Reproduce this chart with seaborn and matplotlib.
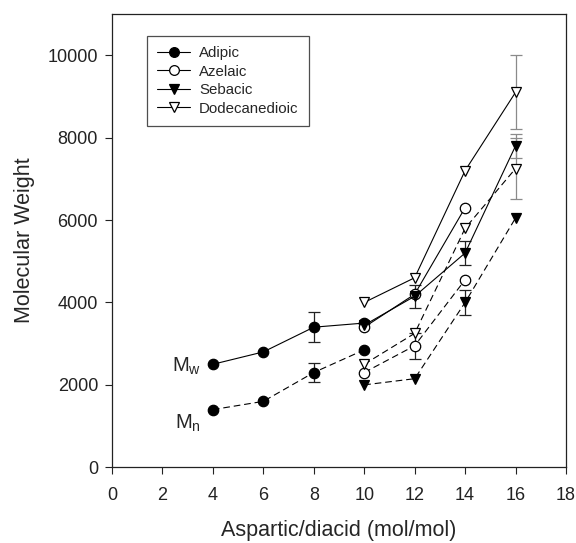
import numpy as np
import pandas as pd
import matplotlib
matplotlib.use("Agg")
import matplotlib.pyplot as plt
from matplotlib.lines import Line2D
import seaborn as sns

# Aspartic/diacid ratio (mol/mol)
adipic_x = [4, 6, 8, 10]
other_x = [10, 12, 14, 16]
azelaic_x = [10, 12, 14]

# Weight-average molecular weight (Mw)
adipic_mw = [2500, 2800, 3400, 3500]
azelaic_mw = [3400, 4200, 6300]
sebacic_mw = [3450, 4150, 5200, 7800]
dodec_mw = [4000, 4600, 7200, 9100]

# Number-average molecular weight (Mn)
adipic_mn = [1400, 1600, 2300, 2850]
azelaic_mn = [2300, 2950, 4550]
sebacic_mn = [2000, 2150, 4000, 6050]
dodec_mn = [2500, 3250, 5800, 7250]

# Standard deviations (x, y, err)
err_x = [8, 8, 12, 12, 14, 14, 16, 16, 16]
err_y = [3400, 2300, 4150, 2950, 5200, 4000, 9100, 7250, 7800]
err_v = [360, 230, 280, 310, 280, 300, 900, 750, 300]
err_grey = [False, False, False, False, False, False, True, True, True]

names = ["Adipic", "Azelaic", "Sebacic", "Dodecanedioic"]

sns.set_style("ticks")
plt.rcParams["font.family"] = ["Liberation Sans", "DejaVu Sans"]
plt.rcParams["mathtext.fontset"] = "custom"
plt.rcParams["mathtext.rm"] = "Liberation Sans"
plt.rcParams["mathtext.it"] = "Liberation Sans"

fig = plt.figure(figsize=(5.76, 5.43), dpi=100)
ax = fig.add_axes([112 / 576, 1 - 467.3 / 543, (566 - 112) / 576, (467.3 - 14) / 543])

styles = {
    "Adipic": dict(marker="o", markerfacecolor="black"),
    "Azelaic": dict(marker="o", markerfacecolor="white"),
    "Sebacic": dict(marker="v", markerfacecolor="black"),
    "Dodecanedioic": dict(marker="v", markerfacecolor="white"),
}

series = [
    ("Adipic", adipic_x, adipic_mw, adipic_mn),
    ("Azelaic", azelaic_x, azelaic_mw, azelaic_mn),
    ("Sebacic", other_x, sebacic_mw, sebacic_mn),
    ("Dodecanedioic", other_x, dodec_mw, dodec_mn),
]

# error bars drawn first so markers sit on top
for x, y, e, g in zip(err_x, err_y, err_v, err_grey):
    ax.errorbar([x], [y], yerr=[e], fmt="none",
                ecolor="#8a8a8a" if g else "#222222",
                elinewidth=0.9, capsize=4, capthick=0.9, zorder=1)

for name, xs, mw, mn in series:
    st = styles[name]
    for vals, dash in ((mw, None), (mn, (6, 3.5))):
        df = pd.DataFrame({"x": xs, "y": vals})
        sns.lineplot(data=df, x="x", y="y", ax=ax, color="black",
                     linewidth=0.8, marker=st["marker"], markersize=7.5,
                     markerfacecolor=st["markerfacecolor"],
                     markeredgecolor="black", markeredgewidth=0.9,
                     zorder=3)
        line = ax.lines[-1]
        if dash is not None:
            line.set_dashes(dash)

ax.set_xlim(0, 18)
ax.set_ylim(0, 11000)
ax.set_xticks(range(0, 19, 2))
ax.set_yticks(range(0, 10001, 2000))
ax.tick_params(direction="out", length=5, width=0.8, labelsize=13,
               colors="#222222")
ax.tick_params(axis="x", pad=9)
ax.tick_params(axis="y", pad=5)
for sp in ax.spines.values():
    sp.set_visible(True)
    sp.set_linewidth(0.9)
    sp.set_color("#222222")

ax.set_xlabel("Aspartic/diacid (mol/mol)", fontsize=15.5, labelpad=12)
ax.set_ylabel("Molecular Weight", fontsize=15.5, labelpad=9)

ax.text(2.38, 2450, r"$\mathrm{M_w}$", fontsize=14.5, ha="left", va="center")
ax.text(2.5, 1060, r"$\mathrm{M_n}$", fontsize=14.5, ha="left", va="center")

handles = [Line2D([0], [0], color="black", linewidth=0.8,
                  marker=styles[n]["marker"], markersize=7,
                  markerfacecolor=styles[n]["markerfacecolor"],
                  markeredgecolor="black", markeredgewidth=0.9)
           for n in names]
leg = ax.legend(handles, names, loc="upper left",
                bbox_to_anchor=(34.7 / 454, 1 - 21.7 / 453.3),
                fontsize=10.8, frameon=True, fancybox=False,
                edgecolor="#222222", handlelength=2.2, handletextpad=0.6,
                labelspacing=0.3, borderpad=0.7, borderaxespad=0)
leg.get_frame().set_linewidth(0.9)

fig.savefig("out.png", dpi=100)
